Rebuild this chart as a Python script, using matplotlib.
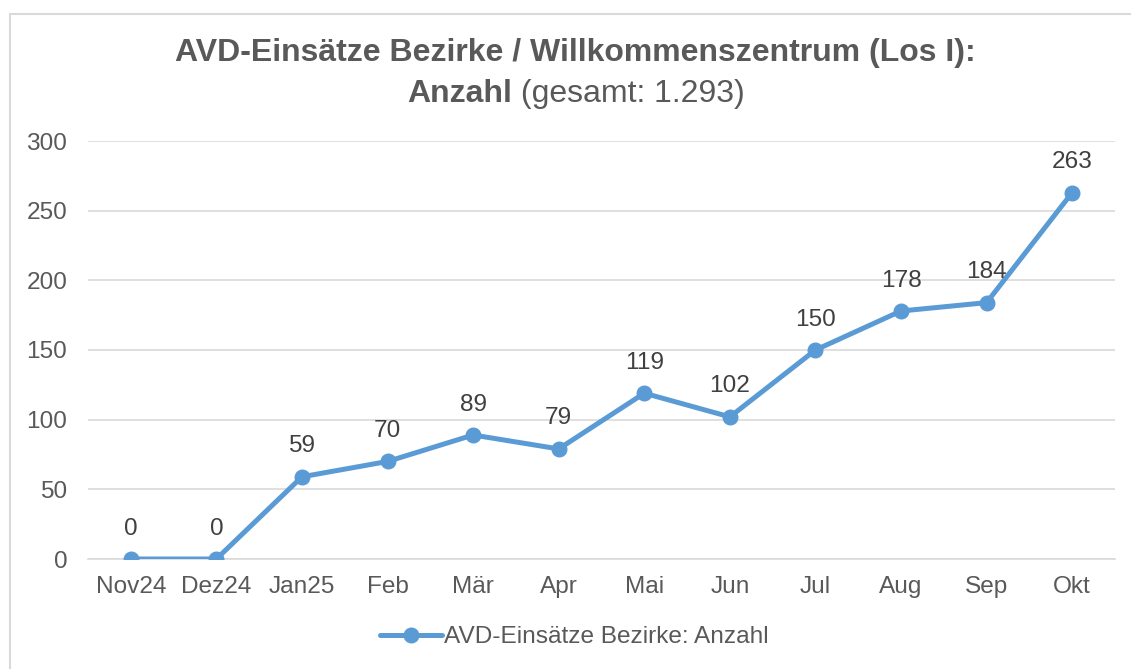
import matplotlib.pyplot as plt
from matplotlib.patches import Rectangle

months = ["Nov24", "Dez24", "Jan25", "Feb", "Mär", "Apr", "Mai", "Jun", "Jul", "Aug", "Sep", "Okt"]
einsaetze = [0, 0, 59, 70, 89, 79, 119, 102, 150, 178, 184, 263]
y_ticks = [0, 50, 100, 150, 200, 250, 300]

TXT = "#595959"
BLUE = "#5B9BD5"
GRID = "#D9D9D9"
plt.rcParams["font.family"] = ["Liberation Sans", "DejaVu Sans"]
FS = 17.6
TFS = 23

fig = plt.figure(figsize=(11.31, 6.69), dpi=100)
fig.patches.append(Rectangle((10 / 1131, -0.1), 1.2, 1.1 - 14 / 669,
                             transform=fig.transFigure, fill=False,
                             edgecolor=GRID, linewidth=1.5))
ax = fig.add_axes([88 / 1131, 1 - 559 / 669, (1115 - 88) / 1131, (559 - 141) / 669])

x = range(len(months))
ax.plot(x, einsaetze, color=BLUE, linewidth=3.6, marker="o", markersize=10.5,
        solid_capstyle="round", label="AVD-Einsätze Bezirke: Anzahl", zorder=3)
for xi, v in zip(x, einsaetze):
    ax.annotate(str(v), (xi, v), xytext=(0, 14), textcoords="offset points",
                ha="center", va="bottom", fontsize=FS, color="#404040")

ax.set_xlim(-0.5, len(months) - 0.5)
ax.set_ylim(0, 300)
ax.set_yticks(y_ticks)
ax.set_xticks(list(x))
ax.set_xticklabels(months)
ax.grid(axis="y", color=GRID, linewidth=1.2)
ax.set_axisbelow(True)
for s in ["top", "right", "left"]:
    ax.spines[s].set_visible(False)
ax.spines["bottom"].set_color(GRID)
ax.spines["bottom"].set_linewidth(1.2)
ax.tick_params(length=0, labelsize=FS, labelcolor=TXT)
ax.tick_params(axis="y", pad=15)
ax.tick_params(axis="x", pad=12)

# title: first line bold, second line mixed bold / regular
fig.text(0.509, 1 - 53 / 669, "AVD-Einsätze Bezirke / Willkommenszentrum (Los I):",
         ha="center", va="center", fontsize=TFS, fontweight="bold", color=TXT)
part1 = "Anzahl"
part2 = " (gesamt: 1.293)"
fig.canvas.draw()
r = fig.canvas.get_renderer()
t1 = fig.text(0, 0, part1, fontsize=TFS, fontweight="bold", color=TXT)
t2 = fig.text(0, 0, part2, fontsize=TFS, color=TXT)
w1 = t1.get_window_extent(r).width
w2 = t2.get_window_extent(r).width
x0 = 0.509 * 1131 - (w1 + w2) / 2
yc = 1 - 94 / 669
t1.set_position((x0 / 1131, yc))
t1.set_va("center")
t2.set_position(((x0 + w1) / 1131, yc))
t2.set_va("center")

leg = fig.legend(loc="center", bbox_to_anchor=(0.508, 1 - 637 / 669), frameon=False,
                 fontsize=FS, handlelength=2.5, handletextpad=0.1)
for t in leg.get_texts():
    t.set_color(TXT)

fig.savefig("out.png", dpi=100)
